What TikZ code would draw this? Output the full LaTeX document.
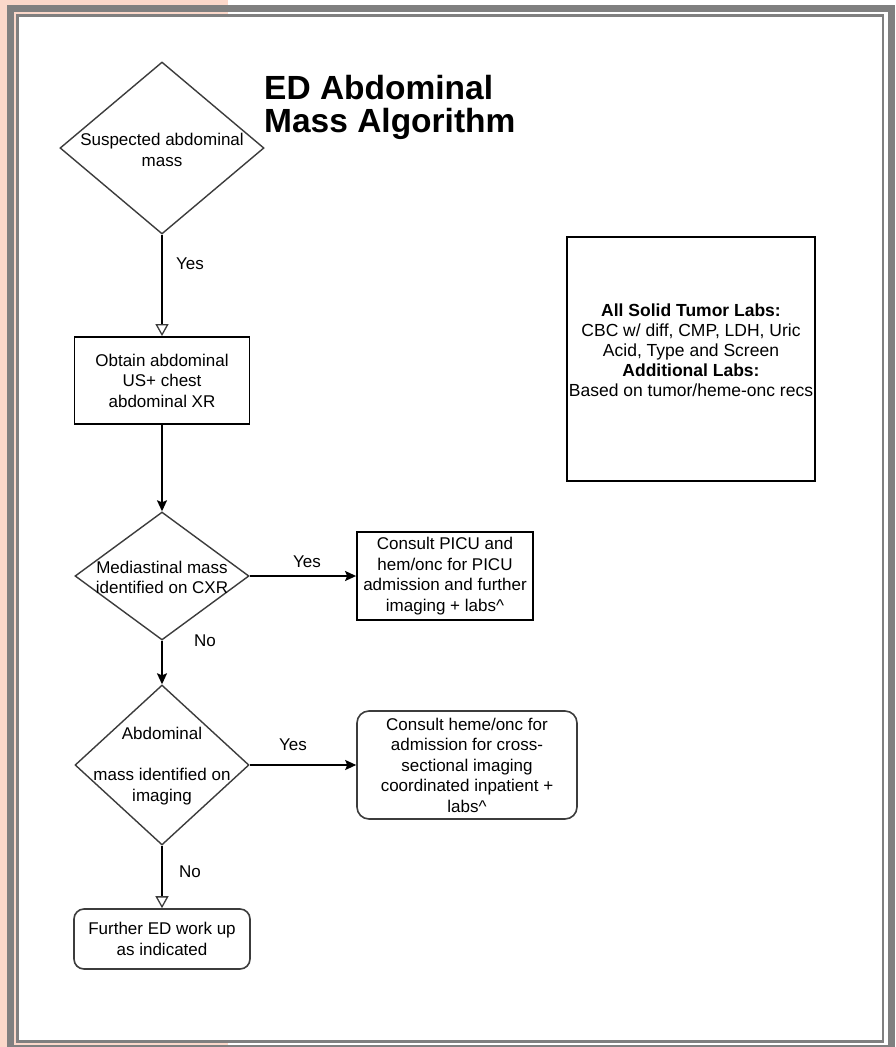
\documentclass[tikz,border=0pt]{standalone}
\usepackage{fontspec}
\setmainfont{Liberation Sans}
\usetikzlibrary{shapes.geometric, arrows.meta}
\definecolor{bgpink}{RGB}{251,216,202}
\definecolor{framegray}{RGB}{128,128,128}
\definecolor{linegray}{RGB}{60,60,60}
\begin{document}
\begin{tikzpicture}[x=1pt,y=-1pt,
  txt/.style={font=\fontsize{17}{20.5}\selectfont, align=center, inner sep=0pt, text=black},
  dia/.style={shape=diamond, draw=linegray, line width=1.4pt, inner sep=0pt, fill=white},
  boxr/.style={draw=black, line width=1.8pt, fill=white, inner sep=0pt},
  boxround/.style={draw=linegray, line width=1.6pt, rounded corners=12pt, fill=white, inner sep=0pt},
  conn/.style={draw=black, line width=1.7pt},
  filledtip/.style={-{Stealth[length=11pt,width=10pt,inset=2pt]}},
  opentip/.style={-{Triangle[fill=white,length=12pt,width=13pt,line width=1.3pt,color=linegray]}},
  lbl/.style={font=\fontsize{17}{20.5}\selectfont, inner sep=0pt},
  titlestyle/.style={font=\fontsize{33.5}{33}\selectfont\bfseries, align=left, inner sep=0pt}]
\useasboundingbox (0,0) rectangle (895,1047);
% background and frame
\fill[white] (0,0) rectangle (895,1047);
\fill[bgpink] (0,0) rectangle (228,1047);
\draw[framegray, line width=7pt] (10.5,8.5) rectangle (891.5,1048.5);
\draw[framegray, line width=2.6pt, fill=white] (17.3,15.3) rectangle (882.8,1041.3);
% title
\node[titlestyle, anchor=north west] (title) at (264,75) {ED Abdominal\\Mass Algorithm};
% diamonds
\node[dia, minimum width=204pt, minimum height=172pt] (d1) at (162,148) {};
\node[txt] (d1t) at (162,150) {Suspected abdominal\\mass};
\node[dia, minimum width=174pt, minimum height=128pt] (d2) at (162,576) {};
\node[txt] (d2t) at (162,577.5) {Mediastinal mass\\identified on CXR};
\node[dia, minimum width=174pt, minimum height=160pt] (d3) at (162,765) {};
\node[txt] (d3t) at (162,766) {Abdominal\\[20.5pt]mass identified on\\imaging};
% boxes
\node[boxr, txt, minimum width=175pt, minimum height=87pt] (b1) at (162,380.5) {Obtain abdominal\\US+ chest\\abdominal XR};
\node[boxr, txt, minimum width=176pt, minimum height=88pt] (b2) at (445,576) {Consult PICU and\\hem/onc for PICU\\admission and further\\imaging + labs\textasciicircum};
\node[boxround, txt, minimum width=220pt, minimum height=108pt] (b3) at (467,765) {Consult heme/onc for\\admission for cross-\\sectional imaging\\coordinated inpatient +\\labs\textasciicircum};
\node[boxround, txt, rounded corners=10pt, minimum width=176pt, minimum height=60pt] (b4) at (162,939) {Further ED work up\\as indicated};
\node[boxr, minimum width=248pt, minimum height=244pt] (labs) at (691,359) {};
\node[txt, font=\fontsize{17.5}{20}\selectfont] (labst) at (691,350) {\textbf{All Solid Tumor Labs:}\\CBC w/ diff, CMP, LDH, Uric\\Acid, Type and Screen\\\textbf{Additional Labs:}\\Based on tumor/heme-onc recs};
% connectors
\draw[conn, opentip] (d1.south) -- (b1.north);
\draw[conn, filledtip] (b1.south) -- (d2.north);
\draw[conn, filledtip] (d2.east) -- (b2.west);
\draw[conn, filledtip] (d2.south) -- (d3.north);
\draw[conn, filledtip] (d3.east) -- (b3.west);
\draw[conn, opentip] (d3.south) -- (b4.north);
% labels
\node[lbl] (y1) at (190,264) {Yes};
\node[lbl] (y2) at (307,562) {Yes};
\node[lbl] (n1) at (205,641) {No};
\node[lbl] (y3) at (293,745) {Yes};
\node[lbl] (n2) at (190,872) {No};
\end{tikzpicture}
\end{document}
